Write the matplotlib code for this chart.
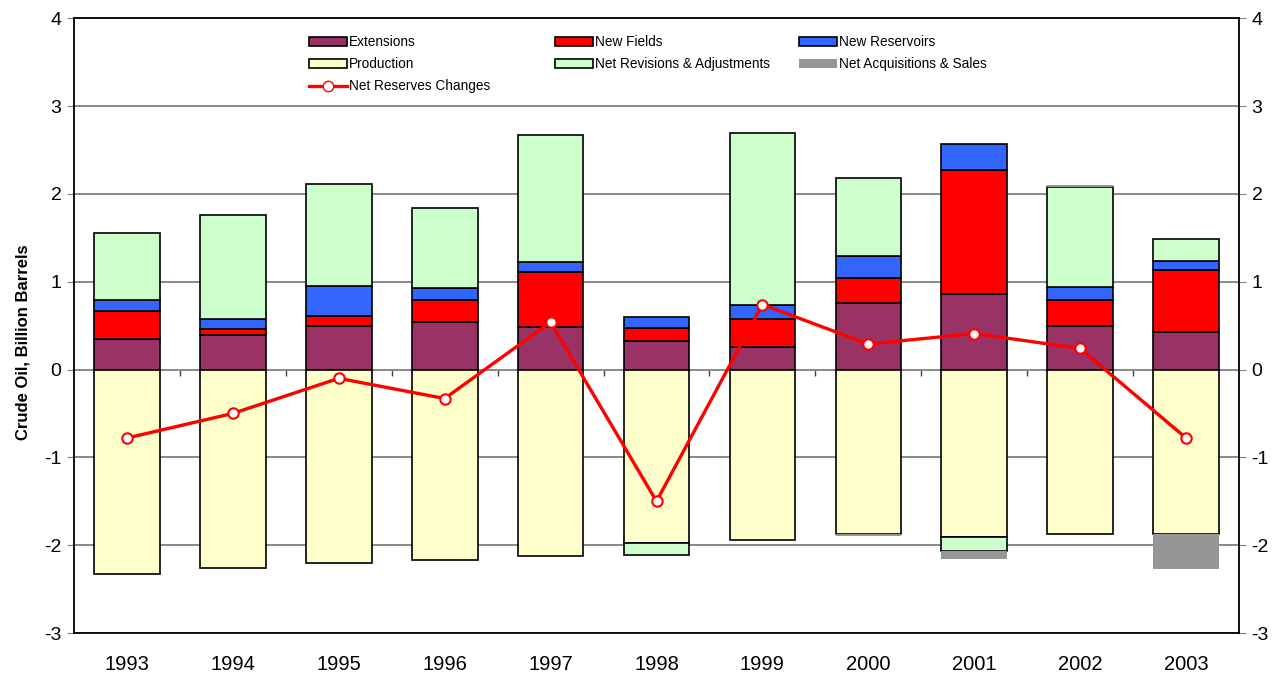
import matplotlib
matplotlib.use("Agg")
import matplotlib.pyplot as plt
from matplotlib.legend import Legend
from matplotlib.lines import Line2D
from matplotlib.patches import Patch
import numpy as np

plt.rcParams["font.family"] = ["Liberation Sans", "DejaVu Sans"]
plt.rcParams["axes.unicode_minus"] = False

# values (billion barrels)
years = ["1993", "1994", "1995", "1996", "1997", "1998",
         "1999", "2000", "2001", "2002", "2003"]
extensions = [0.35, 0.39, 0.50, 0.54, 0.48, 0.33, 0.26, 0.76, 0.86, 0.49, 0.43]
new_fields = [0.32, 0.07, 0.11, 0.25, 0.63, 0.14, 0.32, 0.28, 1.41, 0.30, 0.70]
new_reservoirs = [0.12, 0.115, 0.345, 0.135, 0.12, 0.13, 0.15, 0.25, 0.30, 0.15, 0.11]
production = [-2.33, -2.26, -2.20, -2.17, -2.125, -1.98, -1.94, -1.87, -1.905, -1.867, -1.867]
net_revisions = [0.76, 1.19, 1.155, 0.915, 1.44, -0.13, 1.96, 0.89, -0.16, 1.135, 0.25]
acquisitions = [0.0, 0.0, 0.0, 0.0, 0.0, 0.0, 0.0, -0.02, -0.095, 0.025, -0.40]
net_change = [-0.78, -0.50, -0.10, -0.33, 0.54, -1.50, 0.74, 0.29, 0.41, 0.24, -0.78]

series = [
    ("Extensions", extensions, "#993366", "black"),
    ("New Fields", new_fields, "#FF0000", "black"),
    ("New Reservoirs", new_reservoirs, "#3366FF", "black"),
    ("Production", production, "#FFFFCC", "black"),
    ("Net Revisions & Adjustments", net_revisions, "#CCFFCC", "black"),
    ("Net Acquisitions & Sales", acquisitions, "#969696", "none"),
]

fig = plt.figure(figsize=(12.84, 6.75), dpi=100)
ax = fig.add_axes([0.0576, 0.0622, 0.9074, 0.9108])

x = np.arange(len(years))
width = 0.62
pos_base = np.zeros(len(years))
neg_base = np.zeros(len(years))
for name, vals, color, edge in series:
    v = np.asarray(vals, dtype=float)
    bottom = np.where(v >= 0, pos_base, neg_base)
    ax.bar(x, v, width, bottom=bottom, color=color,
           edgecolor=edge, linewidth=1.2, zorder=2)
    pos_base += np.where(v > 0, v, 0)
    neg_base += np.where(v < 0, v, 0)

ax.plot(x, net_change, color="#FF0000", linewidth=2.4, marker="o",
        markersize=7.5, markerfacecolor="white", markeredgecolor="#FF0000",
        markeredgewidth=1.5, zorder=4)

ax.set_xlim(-0.5, len(years) - 0.5)
ax.set_ylim(-3, 4)
ax.set_yticks(range(-3, 5))
ax.yaxis.grid(True, color="#808080", linewidth=1.3, zorder=0)
ax.set_axisbelow(True)
ax.set_xticks(x)
ax.set_xticklabels(years, fontsize=14.5)
ax.tick_params(axis="x", length=0, pad=16)
ax.tick_params(axis="y", direction="out", length=5, color="#808080",
               labelsize=14, pad=4, right=True, labelright=True)
for s in ax.spines.values():
    s.set_linewidth(1.3)
    s.set_color("black")

# category boundary ticks on the zero line
zero_axis = ax.secondary_xaxis(3 / 7)
zero_axis.set_xticks(x[:-1] + 0.5)
zero_axis.set_xticklabels([])
zero_axis.tick_params(direction="out", length=4, color="#404040", width=1)
zero_axis.spines["bottom"].set_visible(False)

ax.set_ylabel("Crude Oil, Billion Barrels", fontsize=12, fontweight="bold")
ax.yaxis.set_label_coords(-0.037, 0.473)

# legend, three fixed-width columns like the original
handles = {name: Patch(facecolor=c, edgecolor=e, linewidth=1.2)
           for name, _, c, e in series}
handles["Net Reserves Changes"] = Line2D([], [], color="#FF0000", linewidth=2.4,
                                         marker="o", markersize=7.5,
                                         markerfacecolor="white",
                                         markeredgecolor="#FF0000")
columns = [
    (["Extensions", "Production", "Net Reserves Changes"], 0.2015),
    (["New Fields", "Net Revisions & Adjustments"], 0.4125),
    (["New Reservoirs", "Net Acquisitions & Sales"], 0.6225),
]
for labels, xpos in columns:
    leg = Legend(ax, [handles[l] for l in labels], labels, loc="upper left",
                 bbox_to_anchor=(xpos, 0.9725), frameon=False, fontsize=9.8,
                 handlelength=2.8, handleheight=0.7, handletextpad=0.15,
                 labelspacing=0.6, borderaxespad=0, borderpad=0)
    ax.add_artist(leg)

fig.savefig("out.png", dpi=100)
